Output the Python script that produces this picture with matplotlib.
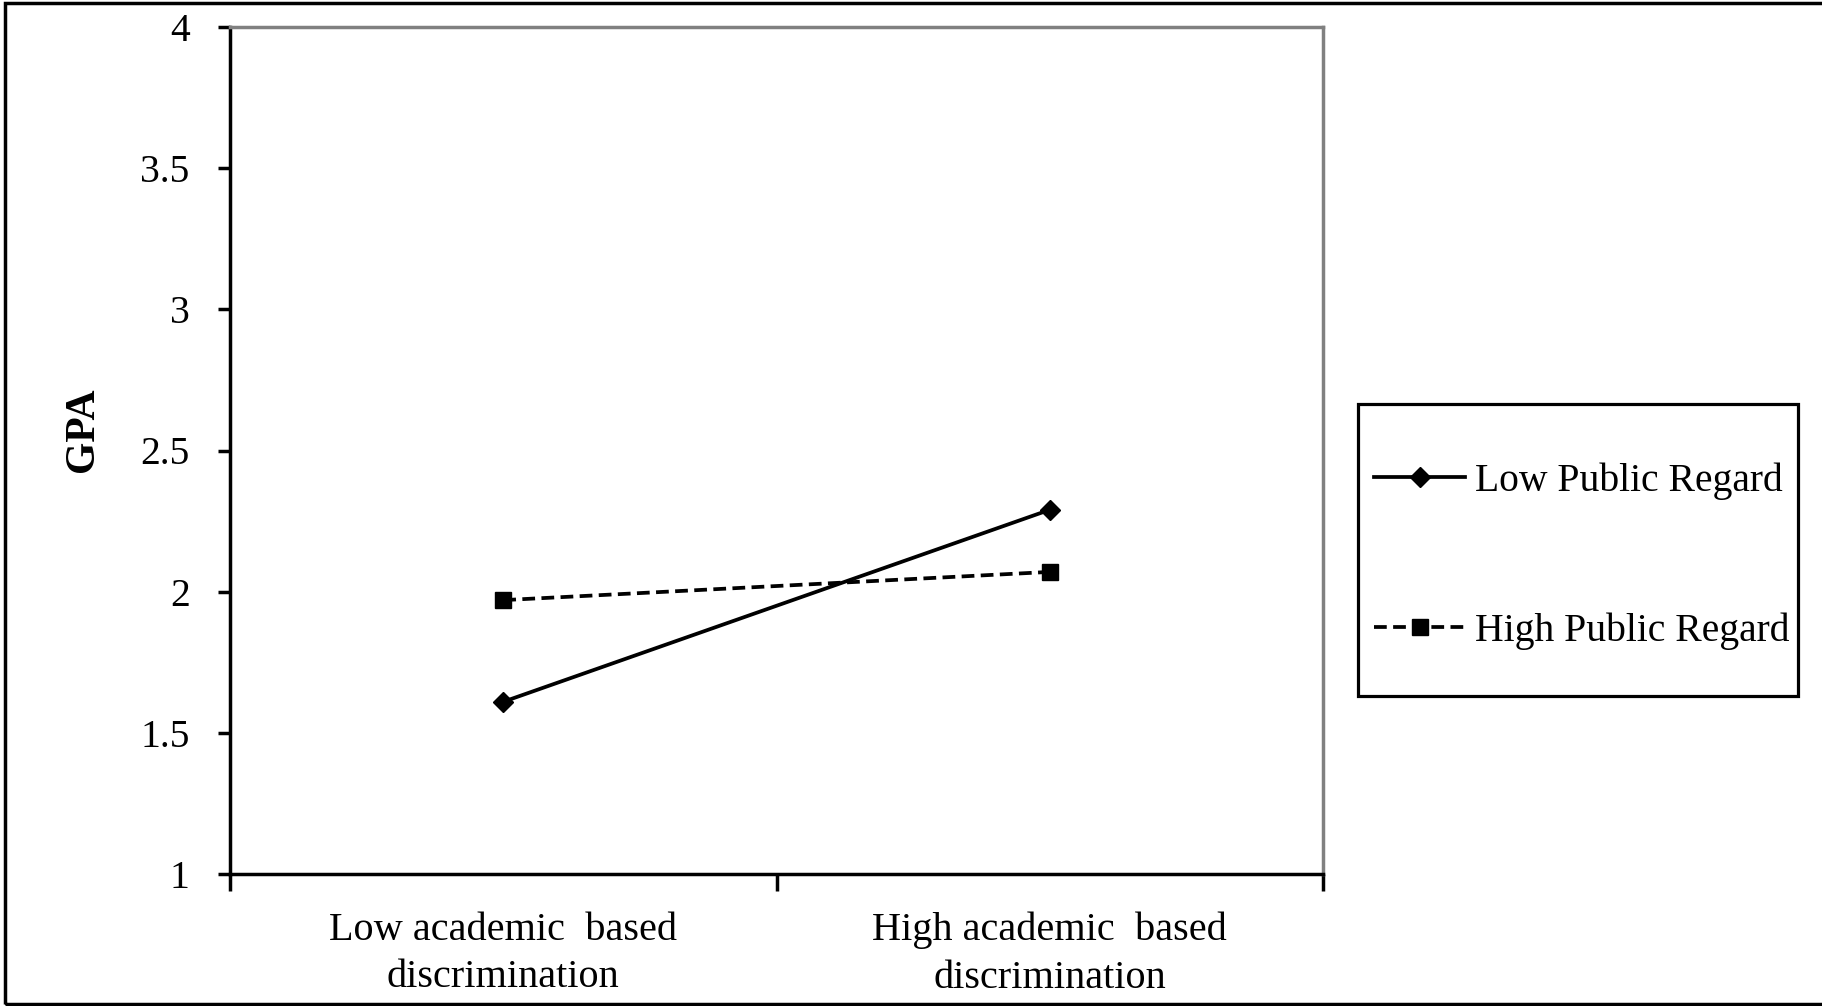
import matplotlib
matplotlib.use('Agg')
import matplotlib.pyplot as plt
from matplotlib.patches import Rectangle

#datos
categorias = ['Low academic  based\ndiscrimination', 'High academic  based\ndiscrimination']
series = ['Low Public Regard', 'High Public Regard']
low_regard = [1.61, 2.29]
high_regard = [1.97, 2.07]
yticks = [1, 1.5, 2, 2.5, 3, 3.5, 4]
ytick_labels = ['1', '1.5', '2', '2.5', '3', '3.5', '4']

plt.rcParams['font.family'] = ['Liberation Serif', 'DejaVu Serif']
plt.rcParams['font.size'] = 28.5

fig = plt.figure(figsize=(18.22, 10.06), dpi=100)
ax = fig.add_axes((230/1822, 132/1006, 1093/1822, 847/1006))

x = [0.5, 1.5]
ax.plot(x, low_regard, '-', color='black', linewidth=2.7, marker='D', markersize=10,
        label=series[0])
ax.plot(x, high_regard, color='black', linewidth=2.7, linestyle=(0, (3.4, 1.7)),
        marker='s', markersize=12, label=series[1])

ax.set_xlim(0, 2)
ax.set_ylim(1, 4)
ax.set_yticks(yticks)
ax.set_yticklabels(ytick_labels)
ax.set_xticks([0, 1, 2])
ax.set_xticklabels([])
ax.set_xticks(x, minor=True)
ax.set_xticklabels(categorias, minor=True, linespacing=1.38, fontsize=29)
ax.tick_params(axis='x', which='minor', length=0, pad=27)
ax.tick_params(axis='x', which='major', length=12, width=2.5, direction='out')
ax.tick_params(axis='y', length=9, width=2.5, direction='out', pad=20)

ax.spines['left'].set_linewidth(2.5)
ax.spines['bottom'].set_linewidth(2.5)
for s in ['top', 'right']:
    ax.spines[s].set_color('#808080')
    ax.spines[s].set_linewidth(2.5)

ax.set_ylabel('GPA', fontweight='bold', fontsize=30)
ax.yaxis.set_label_coords(-0.117, 0.524)

#leyenda
leg = fig.legend(loc='upper left', bbox_to_anchor=(1374/1822, 1-462/1006),
                 frameon=False, borderpad=0, borderaxespad=0,
                 handlelength=2.3, handletextpad=0.25, labelspacing=2.85, fontsize=28.5)
fig.add_artist(Rectangle((1358/1822, 1-696/1006), 440/1822, 292/1006,
                         transform=fig.transFigure, fill=False, edgecolor='black', linewidth=2.3))

#marco exterior
fig.add_artist(Rectangle((5/1822, 2/1006), 1.02, 1001/1006,
                         transform=fig.transFigure, fill=False, edgecolor='black', linewidth=2.5))

fig.savefig('out.png', dpi=100)
